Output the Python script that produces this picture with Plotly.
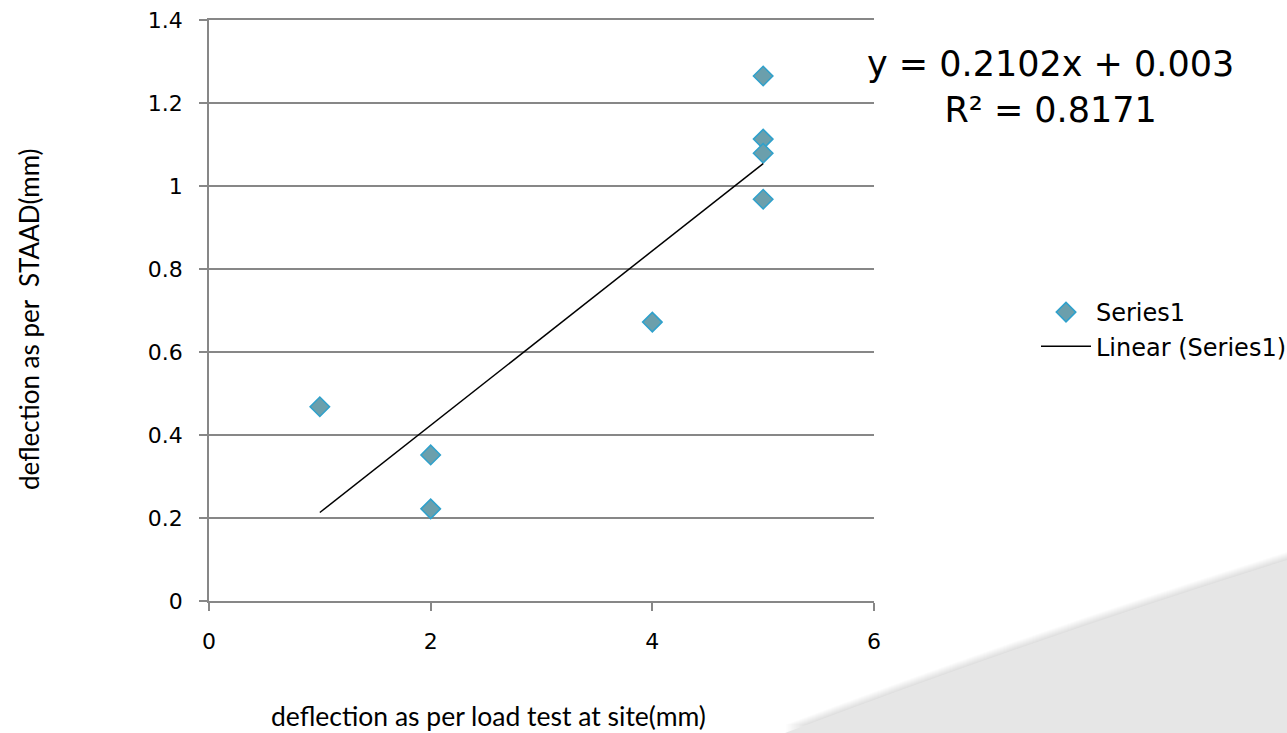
import plotly.graph_objects as go

# Measured deflections (mm): load test at site vs STAAD model
site_deflection = [1, 2, 2, 4, 5, 5, 5, 5]
staad_deflection = [0.468, 0.352, 0.222, 0.672, 1.265, 1.113, 1.079, 0.968]

# Linear trendline as reported on the chart
slope = 0.2102
intercept = 0.003
r_squared = 0.8171

trend_x = [min(site_deflection), max(site_deflection)]
trend_y = [slope * x + intercept for x in trend_x]

x_ticks = [0, 2, 4, 6]
y_ticks = [0, 0.2, 0.4, 0.6, 0.8, 1.0, 1.2, 1.4]

W, H = 1287, 733
L, R, T, B = 209, 413, 20, 132
plot_w = W - L - R
plot_h = H - T - B


def px_to_paper(px, py):
    return (px - L) / plot_w, (H - B - py) / plot_h


fig = go.Figure()

fig.add_trace(go.Scatter(
    x=site_deflection, y=staad_deflection,
    mode="markers", name="Series1",
    marker=dict(symbol="diamond", size=15, color="#6b9fac",
                line=dict(color="#2fa1cc", width=1.5)),
))

fig.add_trace(go.Scatter(
    x=trend_x, y=trend_y,
    mode="lines", name="Linear (Series1)",
    line=dict(color="black", width=1.5),
))


# decorative curved band in the lower-right corner
def band_path(dy=0.0):
    pts = [(785, 733 - dy), (1030, 640 - dy), (1287, 560 - dy)]
    (x0, y0), (x1, y1), (x2, y2) = [px_to_paper(*p) for p in pts]
    xe, ye = px_to_paper(1287, 733)
    return f"M {x0},{y0} Q {x1},{y1} {x2},{y2} L {xe},{ye} Z"


shapes = []
for k in range(8, 0, -1):
    shapes.append(dict(type="path", xref="paper", yref="paper", layer="below",
                       path=band_path(k), fillcolor="rgba(0,0,0,0.016)",
                       line=dict(width=0)))
shapes.append(dict(type="path", xref="paper", yref="paper", layer="below",
                   path=band_path(0), fillcolor="#e6e6e6", line=dict(width=0)))

ax, ay = px_to_paper(1050, 87)
tx, ty = px_to_paper(488, 716)
yx, yy = px_to_paper(29, 319)

annotations = [
    dict(text=f"y = {slope}x + {intercept}<br>R² = {r_squared}",
         xref="paper", yref="paper", x=ax, y=ay, xanchor="center", yanchor="middle",
         showarrow=False, align="center",
         font=dict(family="DejaVu Sans", size=35, color="black")),
    dict(text="deflection as per load test at site(mm)",
         xref="paper", yref="paper", x=tx, y=ty, xanchor="center", yanchor="middle",
         showarrow=False, font=dict(family="Lato", size=26.5, color="black")),
    dict(text="deflection as per \u00a0STAAD(mm)", textangle=-90,
         xref="paper", yref="paper", x=yx, y=yy, xanchor="center", yanchor="middle",
         showarrow=False, font=dict(family="Lato", size=26, color="black")),
]

lx, ly = px_to_paper(1036, 290)

fig.update_layout(
    width=W, height=H,
    margin=dict(l=L, r=R, t=T, b=B, pad=0, autoexpand=False),
    paper_bgcolor="white", plot_bgcolor="white",
    showlegend=True,
    legend=dict(x=lx, y=ly, xanchor="left", yanchor="top",
                font=dict(family="DejaVu Sans", size=24, color="black"),
                bgcolor="rgba(0,0,0,0)", itemwidth=50),
    shapes=shapes,
    annotations=annotations,
    xaxis=dict(range=[0, 6], tickvals=x_ticks, showgrid=False, zeroline=False,
               showline=True, mirror=True, linecolor="#878787", linewidth=1.5,
               ticks="outside", ticklen=8, tickcolor="#878787", tickwidth=1.5,
               ticklabelstandoff=12, automargin=False,
               tickfont=dict(family="DejaVu Sans", size=22, color="black")),
    yaxis=dict(range=[0, 1.4], tickvals=y_ticks, showgrid=True, gridcolor="#878787",
               gridwidth=1.5, zeroline=False,
               showline=True, linecolor="#878787", linewidth=1.5,
               ticks="outside", ticklen=8, tickcolor="#878787", tickwidth=1.5,
               ticklabelstandoff=12, automargin=False,
               tickfont=dict(family="DejaVu Sans", size=22, color="black")),
)

fig.write_html("out.html")
